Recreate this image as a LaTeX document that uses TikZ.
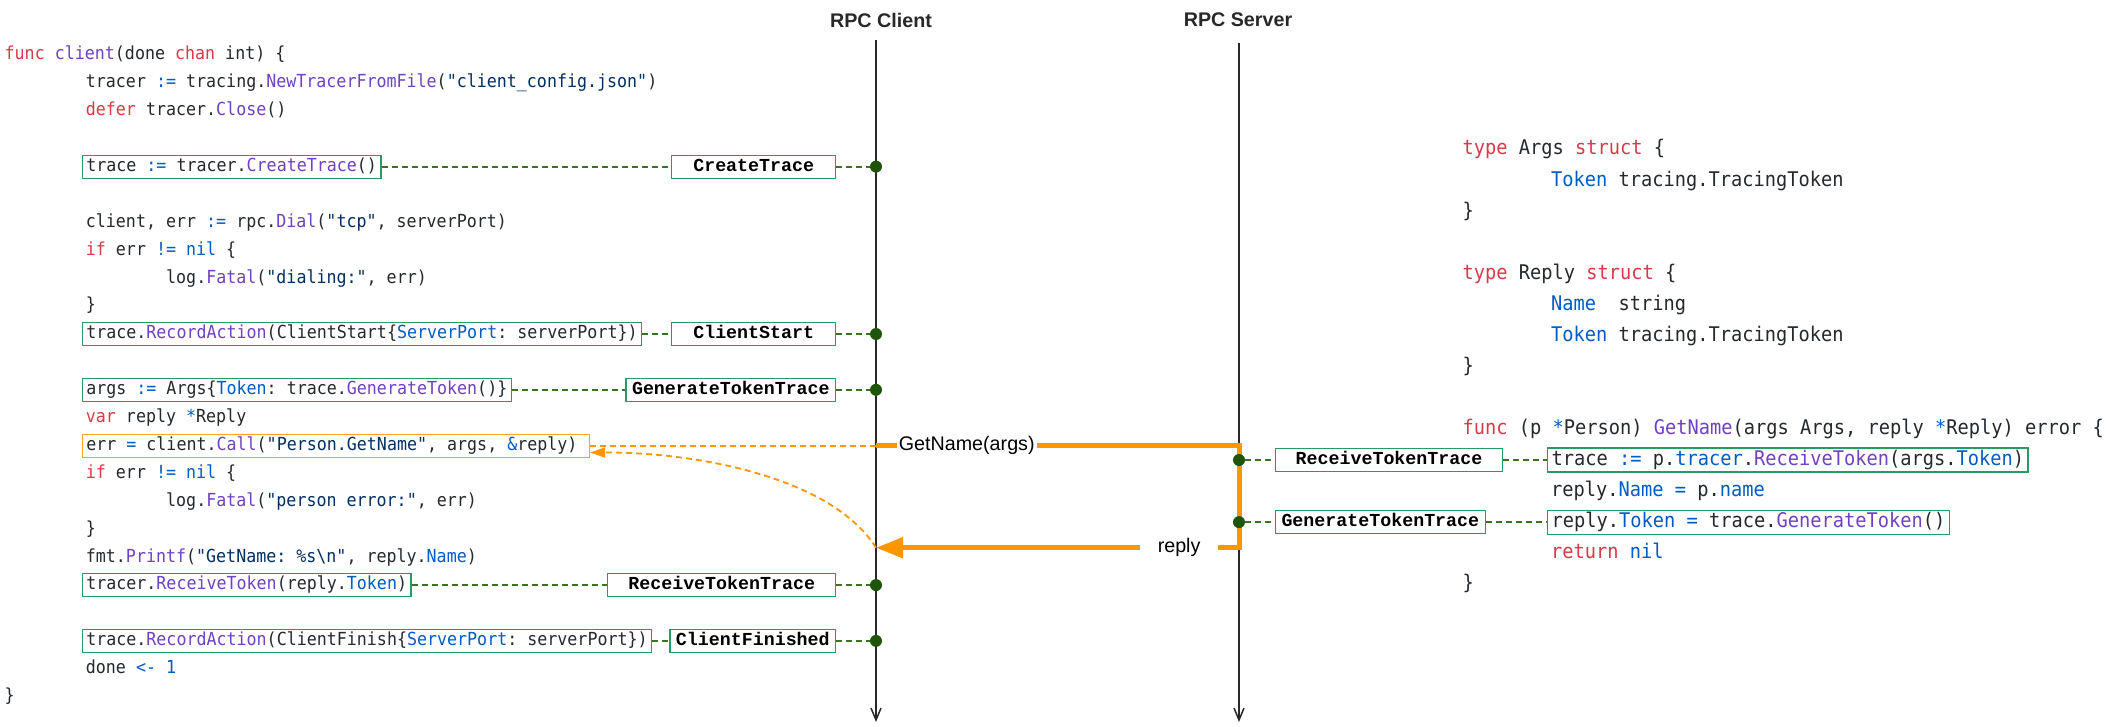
\documentclass[tikz,border=0pt]{standalone}
\usepackage{fontspec}
\setsansfont{Liberation Sans}
\setmonofont{DejaVu Sans Mono}[FakeStretch=0.925]
\newfontfamily\tagfont{Liberation Mono}
\usepackage{xcolor}
\usetikzlibrary{arrows.meta,positioning}

\definecolor{gotext}{RGB}{36,41,46}
\definecolor{gokwc}{RGB}{215,58,73}
\definecolor{gofnc}{RGB}{111,66,193}
\definecolor{goopc}{RGB}{0,92,197}
\definecolor{gostrc}{RGB}{3,47,98}
\definecolor{tracebox}{RGB}{40,155,100}
\definecolor{linkgreen}{RGB}{60,115,30}
\definecolor{tracedot}{RGB}{30,85,10}
\definecolor{msgorange}{RGB}{255,150,0}
\definecolor{callorange}{RGB}{250,165,40}
\definecolor{lifegray}{RGB}{40,40,40}

\newcommand{\gokw}[1]{\textcolor{gokwc}{#1}}
\newcommand{\gofn}[1]{\textcolor{gofnc}{#1}}
\newcommand{\goop}[1]{\textcolor{goopc}{#1}}
\newcommand{\gostr}[1]{\textcolor{gostrc}{#1}}
\newcommand\codesize{\fontsize{18pt}{21pt}\selectfont}
\newcommand\srvsize{\fontsize{20.2pt}{24pt}\selectfont}
\newcommand\tagsize{\fontsize{18.3pt}{22pt}\selectfont}
\newcommand\msgsize{\fontsize{19.7pt}{23pt}\selectfont}

\tikzset{
  code/.style      = {anchor=west, font=\codesize\ttfamily, text=gotext, inner xsep=4pt, inner ysep=0pt,
                      minimum height=23pt, text height=13pt, text depth=3.3pt},
  code box/.style  = {code, draw=tracebox, line width=1.2pt},
  call box/.style  = {code, draw=callorange, line width=1.2pt},
  srv code/.style  = {code, font=\srvsize\ttfamily, minimum height=24pt, text height=14.5pt, text depth=3.6pt},
  srv box/.style   = {srv code, draw=tracebox, line width=1.2pt},
  tag/.style       = {draw=tracebox, line width=1.2pt, fill=white, font=\tagsize\tagfont\bfseries, text=black,
                      minimum width=164pt, minimum height=23pt, inner xsep=6pt, inner ysep=0pt,
                      text height=12pt, text depth=3pt},
  dot/.style       = {circle, fill=tracedot, inner sep=0pt, minimum size=12pt},
  actor/.style     = {font=\msgsize\sffamily\bfseries, text=lifegray},
  lifeline/.style  = {draw=lifegray, line width=1.5pt, -{Straight Barb[length=12pt,width=10pt]}},
  trace link/.style = {draw=linkgreen, line width=2pt, dash pattern=on 6pt off 4pt},
  msg/.style       = {draw=msgorange, line width=5pt},
  msg label/.style = {fill=white, font=\msgsize\sffamily, text=black, inner sep=2pt},
  call link/.style = {draw=msgorange, line width=1.8pt, dash pattern=on 6pt off 4pt}
}

\begin{document}
\frenchspacing
\begin{tikzpicture}[x=1pt, y=-1pt]
\fill[white] (0,0) rectangle (2115,726);
\useasboundingbox (0,0) rectangle (2115,726);

% lifelines
\node[actor] (client) at (881,20) {RPC Client};
\node[actor] (server) at (1238,20) {RPC Server};
\coordinate (cTop) at (876,40);
\coordinate (cBot) at (876,722);
\coordinate (sTop) at (1239,43);
\coordinate (sBot) at (1239,722);
\draw[lifeline] (cTop) -- (cBot);
\draw[lifeline] (sTop) -- (sBot);

% client code, one line per unit
\begin{scope}[x=1pt, y=-27.9pt, shift={(0pt,-55pt)}]
\node[code] (c0) at (0.5,0) {\gokw{func} \gofn{client}(done \gokw{chan} int) \{};
\node[code] (c1) at (81.7,1) {tracer \goop{:=} tracing.\gofn{NewTracerFromFile}(\gostr{"client\_config.json"})};
\node[code] (c2) at (81.7,2) {\gokw{defer} tracer.\gofn{Close}()};
\node[code box] (cl1) at (81.7,4) {trace \goop{:=} tracer.\gofn{CreateTrace}()};
\node[code] (c6) at (81.7,6) {client, err \goop{:=} rpc.\gofn{Dial}(\gostr{"tcp"}, serverPort)};
\node[code] (c7) at (81.7,7) {\gokw{if} err \goop{!=} \goop{nil} \{};
\node[code] (c8) at (162,8) {log.\gofn{Fatal}(\gostr{"dialing:"}, err)};
\node[code] (c9) at (81.7,9) {\}};
\node[code box] (cl2) at (81.7,10) {trace.\gofn{RecordAction}(ClientStart\{\goop{ServerPort}: serverPort\})};
\node[code box] (cl3) at (81.7,12) {args \goop{:=} Args\{\goop{Token}: trace.\gofn{GenerateToken}()\}};
\node[code] (c13) at (81.7,13) {\gokw{var} reply \goop{*}Reply};
\node[call box] (call) at (81.7,14) {err \goop{=} client.\gofn{Call}(\gostr{"Person.GetName"}, args, \goop{\&}reply)\hspace*{8pt}};
\node[code] (c15) at (81.7,15) {\gokw{if} err \goop{!=} \goop{nil} \{};
\node[code] (c16) at (162,16) {log.\gofn{Fatal}(\gostr{"person error:"}, err)};
\node[code] (c17) at (81.7,17) {\}};
\node[code] (c18) at (81.7,18) {fmt.\gofn{Printf}(\gostr{"GetName: \%s\textbackslash n"}, reply.\goop{Name})};
\node[code box] (cl4) at (81.7,19) {tracer.\gofn{ReceiveToken}(reply.\goop{Token})};
\node[code box] (cl5) at (81.7,21) {trace.\gofn{RecordAction}(ClientFinish\{\goop{ServerPort}: serverPort\})};
\node[code] (c22) at (81.7,22) {done \goop{<-} \goop{1}};
\node[code] (c23) at (0.5,23) {\}};
\end{scope}

% server code
\begin{scope}[x=1pt, y=-31.05pt, shift={(0pt,-149.5pt)}]
\node[srv code] (s0) at (1458.5,0) {\gokw{type} Args \gokw{struct} \{};
\node[srv code] (s1) at (1547,1) {\goop{Token} tracing.TracingToken};
\node[srv code] (s2) at (1458.5,2) {\}};
\node[srv code] (s4) at (1458.5,4) {\gokw{type} Reply \gokw{struct} \{};
\node[srv code] (s5) at (1547,5) {\goop{Name}\ \ string};
\node[srv code] (s6) at (1547,6) {\goop{Token} tracing.TracingToken};
\node[srv code] (s7) at (1458.5,7) {\}};
\node[srv code] (s9) at (1458.5,9) {\gokw{func} (p \goop{*}Person) \gofn{GetName}(args Args, reply \goop{*}Reply) error \{};
\node[srv box] (sl1) at (1547,10) {trace \goop{:=} p.\goop{tracer}.\gofn{ReceiveToken}(args.\goop{Token})};
\node[srv code] (s11) at (1547,11) {reply.\goop{Name} \goop{=} p.\goop{name}};
\node[srv box] (sl2) at (1547,12) {reply.\goop{Token} \goop{=} trace.\gofn{GenerateToken}()};
\node[srv code] (s13) at (1547,13) {\gokw{return} \goop{nil}};
\node[srv code] (s14) at (1458.5,14) {\}};
\end{scope}

% the rpc call and its reply
\coordinate (reqStart) at (cTop |- call);
\coordinate (reqTurn) at (sTop |- call);
\coordinate (repTurn) at (1239,547.7);
\coordinate (repEnd) at (cTop |- repTurn);
\coordinate (callIn) at ([yshift=-7pt]call.east);
\draw[call link] (call) -- (reqStart);
\draw[call link, -{Triangle[length=15pt,width=10pt]}] (repEnd) .. controls (830,475) and (690,452) .. (callIn);
\draw[msg, -{Triangle[length=27pt,width=20pt]}] (reqStart)
  -- node[msg label, pos=0.25] (getname) {GetName(args)} (reqTurn)
  -- (repTurn)
  -- node[msg label, pos=0.165, inner xsep=18pt] (replyl) {reply} (repEnd);

% trace points on the lifelines
\foreach \i in {1,...,5}
  \node[dot] (cd\i) at (cTop |- cl\i) {};
\foreach \i in {1,2}
  \node[dot] (sd\i) at (sTop |- sl\i) {};

\node[tag, left=33.5pt of cd1] (ct1) {CreateTrace};
\node[tag, left=33.5pt of cd2] (ct2) {ClientStart};
\node[tag, left=33.5pt of cd3] (ct3) {GenerateTokenTrace};
\node[tag, left=33.5pt of cd4, minimum width=228pt] (ct4) {ReceiveTokenTrace};
\node[tag, left=33.5pt of cd5] (ct5) {ClientFinished};
\node[tag, right=29.7pt of sd1, minimum width=227pt] (st1) {ReceiveTokenTrace};
\node[tag, right=29.7pt of sd2] (st2) {GenerateTokenTrace};

% dashed links from code to trace point
\foreach \i in {1,...,5}
  \draw[trace link] (cl\i) -- (ct\i) -- (cd\i);
\foreach \i in {1,2}
  \draw[trace link] (sd\i) -- (st\i) -- (sl\i);
\end{tikzpicture}
\end{document}
